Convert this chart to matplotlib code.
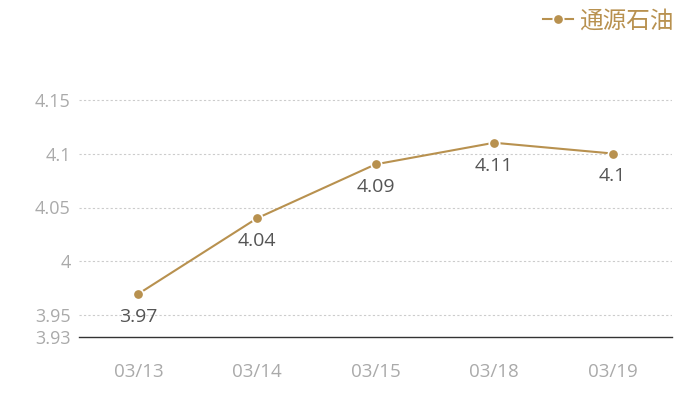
import matplotlib.pyplot as plt

plt.rcParams['font.family'] = ['Open Sans', 'Noto Sans CJK SC', 'DejaVu Sans']

# data
dates = ["03/13", "03/14", "03/15", "03/18", "03/19"]
prices = [3.97, 4.04, 4.09, 4.11, 4.10]
price_labels = ["3.97", "4.04", "4.09", "4.11", "4.1"]
y_ticks = [3.93, 3.95, 4.0, 4.05, 4.1, 4.15]
y_tick_labels = ["3.93", "3.95", "4", "4.05", "4.1", "4.15"]

gold = "#b8914f"

fig = plt.figure(figsize=(7, 4), dpi=100)
ax = fig.add_axes([0.113, 0.1575, 0.847, 0.6475])

x = list(range(len(dates)))
ax.plot(x, prices, color=gold, linewidth=1.5, marker="o", markersize=7.5,
        markerfacecolor=gold, markeredgecolor="white", markeredgewidth=1.2,
        label="通源石油", zorder=3)

# value labels under each point
for xi, yi, lab in zip(x, prices, price_labels):
    ax.annotate(lab, (xi, yi), xytext=(0, -16.5), textcoords="offset points",
                ha="center", va="center", fontsize=14, color="#555555")

ax.set_xlim(-0.5, len(dates) - 0.5)
ax.set_ylim(3.93, 4.17)
ax.set_xticks(x)
ax.set_xticklabels(dates)
ax.set_yticks(y_ticks)
ax.set_yticklabels(y_tick_labels)

ax.tick_params(axis="both", length=0, labelcolor="#aaaaaa")
ax.tick_params(axis="x", pad=19, labelsize=13.5)
ax.tick_params(axis="y", pad=6, labelsize=13)

# dotted horizontal grid, skip the bottom axis value
for t in y_ticks[1:]:
    ax.axhline(t, color="#cccccc", linewidth=0.8, linestyle=(0, (2, 2)), zorder=1)

for s in ["top", "right", "left"]:
    ax.spines[s].set_visible(False)
ax.spines["bottom"].set_color("#333333")
ax.spines["bottom"].set_linewidth(1)

leg = fig.legend(loc="upper right", bbox_to_anchor=(0.993, 1.03), frameon=False,
                 prop={"family": ["Noto Sans CJK SC"], "size": 17},
                 handlelength=1.3, handletextpad=0.25)
for t in leg.get_texts():
    t.set_color(gold)

fig.savefig("out.png", dpi=100)
